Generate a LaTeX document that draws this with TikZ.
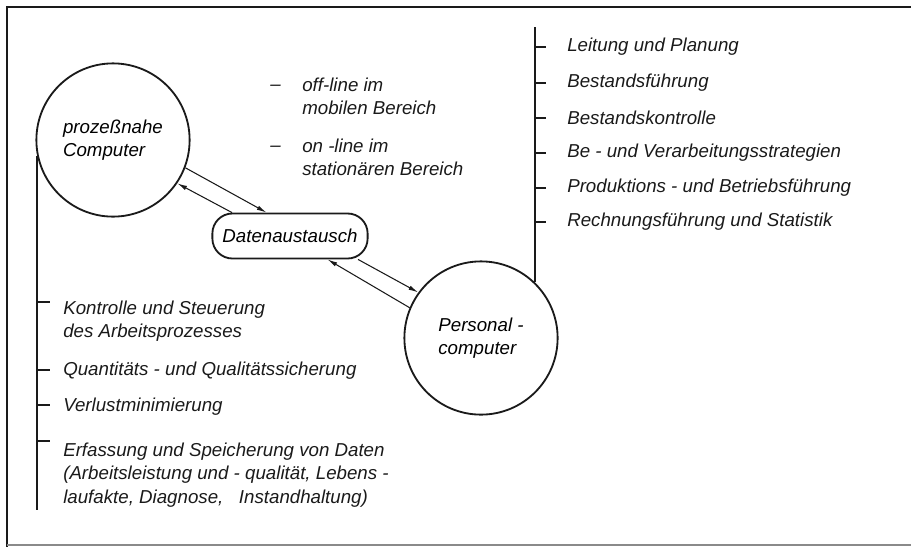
\documentclass[tikz,border=0pt]{standalone}
\usepackage{fontspec}
\setmainfont{Liberation Sans}
\usetikzlibrary{arrows.meta,calc}
\definecolor{inkline}{HTML}{1A1A1A}
\definecolor{scangrey}{HTML}{8A8A8A}

\begin{document}
\begin{tikzpicture}[x=0.025cm, y=-0.025cm,
    txt/.style={font=\fontsize{13.3}{16.5}\selectfont\itshape, anchor=west, align=left, inner sep=0pt, text=inkline},
    comp/.style={circle, draw=inkline, line width=1.3pt, minimum size=3.83cm, inner sep=0pt, align=left, font=\fontsize{13.3}{16.5}\selectfont\itshape},
    link/.style={-{Latex[length=7pt,width=3.2pt]}, line width=0.75pt, inkline},
    tick/.style={line width=1pt, inkline}
]
\useasboundingbox (0,0) rectangle (911,547);
% ---- frame ----
\draw[line width=1.3pt, inkline] (911,7) -- (7,7) -- (7,547);
\draw[line width=1pt, scangrey] (7,545) -- (911,545);

% ---- computers and exchange ----
\node[comp] (pc) at (113,140) {prozeßnahe\\Computer};
\node[comp] (pers) at (481,338) {Personal -\\computer};
\node[draw=inkline, line width=1.3pt, rounded corners=0.5cm, minimum width=3.88cm, minimum height=1.125cm, inner sep=0pt, font=\fontsize{13.3}{16.5}\selectfont\itshape] (da) at (290,236) {Datenaustausch};

\draw[link] (pc.-21) -- (da.135);
\draw[link] (da.158) -- (pc.-34);
\draw[link] (da.-19) -- (pers.144);
\draw[link] (pers.157) -- (da.-32);

% ---- modes of operation ----
\node[txt, anchor=base west] (d1) at (270,90) {--};
\node[txt] (o1) at (302,96) {off-line im\\mobilen Bereich};
\node[txt, anchor=base west] (d2) at (270,151) {--};
\node[txt] (o2) at (302,157) {on -line im\\station\"aren Bereich};

% ---- tasks of the process computer ----
\coordinate (lfoot) at (37,510);
\draw[line width=1.3pt, inkline] (pc.192) -- (pc.192 |- lfoot);
\node[txt] (k1) at (63,321) {Kontrolle und Steuerung\\des Arbeitsprozesses};
\node[txt] (k2) at (63,371) {Quantit\"ats - und Qualit\"atssicherung};
\node[txt] (k3) at (63,407) {Verlustminimierung};
\node[txt] (k4) at (63,475) {Erfassung und Speicherung von Daten\\(Arbeitsleistung und - qualit\"at, Lebens -\\laufakte, Diagnose,\ \ \ Instandhaltung)};
\draw[tick] (pc.192 |- 0,302) -- ++(13,0);
\draw[tick] (pc.192 |- 0,370) -- ++(13,0);
\draw[tick] (pc.192 |- 0,405) -- ++(13,0);
\draw[tick] (pc.192 |- 0,441) -- ++(13,0);

% ---- tasks of the personal computer ----
\coordinate (rtop) at (535,27);
\draw[line width=1.3pt, inkline] (pers.46) -- (pers.46 |- rtop);
\node[txt] (r1) at (567,47) {Leitung und Planung};
\node[txt] (r2) at (567,83) {Bestandsf\"uhrung};
\node[txt] (r3) at (567,118) {Bestandskontrolle};
\node[txt] (r4) at (567,153) {Be - und Verarbeitungsstrategien};
\node[txt] (r5) at (567,188) {Produktions - und Betriebsf\"uhrung};
\node[txt] (r6) at (567,222) {Rechnungsf\"uhrung und Statistik};
\draw[tick] (pers.46 |- r1) -- ++(11,0);
\draw[tick] (pers.46 |- r2) -- ++(11,0);
\draw[tick] (pers.46 |- r3) -- ++(11,0);
\draw[tick] (pers.46 |- r4) -- ++(11,0);
\draw[tick] (pers.46 |- r5) -- ++(11,0);
\draw[tick] (pers.46 |- r6) -- ++(11,0);
\end{tikzpicture}
\end{document}
